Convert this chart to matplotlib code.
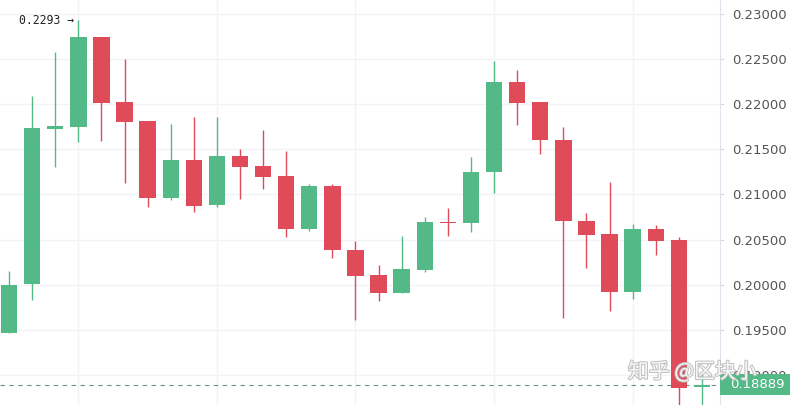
import matplotlib
matplotlib.use("Agg")
import matplotlib.pyplot as plt
import matplotlib.patheffects as pe
from matplotlib.patches import Rectangle
import numpy as np

# daily candles
opens = [0.19464, 0.20007, 0.21725, 0.21747, 0.22745, 0.22024, 0.21814, 0.20960,
         0.21378, 0.20879, 0.21426, 0.21318, 0.21204, 0.20613, 0.21093, 0.20384,
         0.20103, 0.19904, 0.20162, 0.20694, 0.20686, 0.21245, 0.22243, 0.22024,
         0.21603, 0.20705, 0.20561, 0.19918, 0.20613, 0.20495, 0.18866]
highs = [0.20151, 0.22091, 0.22579, 0.22930, 0.22745, 0.22505, 0.21814, 0.21781,
         0.21855, 0.21862, 0.21503, 0.21714, 0.21485, 0.21115, 0.21115, 0.20484,
         0.20214, 0.20539, 0.20753, 0.20846, 0.21418, 0.22479, 0.22379, 0.22024,
         0.21744, 0.20791, 0.21141, 0.20669, 0.20661, 0.20531, 0.19017]
lows = [0.19460, 0.19829, 0.21304, 0.21581, 0.21595, 0.21130, 0.20860, 0.20938,
        0.20805, 0.20860, 0.20949, 0.21060, 0.20524, 0.20598, 0.20292, 0.19608,
        0.19818, 0.19904, 0.20143, 0.20542, 0.20587, 0.21012, 0.21769, 0.21445,
        0.19627, 0.20181, 0.19708, 0.19844, 0.20328, 0.18600, 0.18600]
closes = [0.19996, 0.21736, 0.21758, 0.22745, 0.22017, 0.21806, 0.20960, 0.21378,
          0.20871, 0.21426, 0.21307, 0.21196, 0.20613, 0.21093, 0.20384, 0.20099,
          0.19904, 0.20170, 0.20694, 0.20680, 0.21252, 0.22243, 0.22017, 0.21600,
          0.20702, 0.20553, 0.19918, 0.20613, 0.20487, 0.18850, 0.18889]

price_ticks = [0.190, 0.195, 0.200, 0.205, 0.210, 0.215, 0.220, 0.225, 0.230]
last_price = 0.18889
high_label = "0.2293 →"
watermark = "知乎 @区块小"

up = "#53b987"
down = "#e04b5a"
grid = "#f2f3f7"

W, H = 794, 405
fig = plt.figure(figsize=(W / 100, H / 100), dpi=100)
ax = fig.add_axes([0, 0, 720 / W, 1])

x = np.arange(len(opens))
o = np.array(opens)
c = np.array(closes)
colors = [up if cc >= oo else down for oo, cc in zip(o, c)]

ax.vlines(x, lows, highs, colors=colors, lw=1, zorder=2)
bottoms = np.minimum(o, c)
heights = np.maximum(np.abs(c - o), 0.00018)
ax.bar(x, heights, bottom=bottoms, width=0.71, color=colors, zorder=3)

ax.set_xlim(-0.39, 30.78)
ax.set_ylim(0.186654, 0.231552)

# grid
for v in price_ticks:
    ax.axhline(v, color=grid, lw=1, zorder=0)
for i in range(3, len(opens), 6):
    ax.axvline(i, color=grid, lw=1, zorder=0)

ax.yaxis.tick_right()
ax.set_yticks(price_ticks)
ax.set_yticklabels([f"{v:.5f}" for v in price_ticks])
ax.tick_params(axis="y", length=3, color="#d6d9e0", labelcolor="#555555",
               labelsize=9.5, pad=6)
ax.set_xticks([])
for s in ["top", "left", "bottom"]:
    ax.spines[s].set_visible(False)
ax.spines["right"].set_color("#e0e3eb")

# last price line and tag
ax.axhline(last_price, color="#708f86", lw=0.8, ls=(0, (4, 4)), zorder=1)
yfrac = (last_price - 0.186654) / (0.231552 - 0.186654)
fig.patches.append(Rectangle((720 / W, yfrac - 10.5 / H), 70 / W, 21 / H,
                             transform=fig.transFigure, fc=up, ec="none", zorder=4))
fig.text(730 / W, yfrac, f"{last_price:.5f}", ha="left", va="center",
         color="white", fontsize=9.5, zorder=5)

ax.text(2.8, 0.2293, high_label, ha="right", va="center", fontsize=8.3,
        family="DejaVu Sans Mono", color="#222222")

fig.text(628 / W, 1 - 372 / H, watermark, ha="left", va="center",
         fontsize=15, color="white", alpha=0.9,
         family=["Noto Sans CJK SC", "DejaVu Sans"], zorder=10,
         path_effects=[pe.withStroke(linewidth=1.5, foreground="#bbbbbb")])

fig.savefig("out.png", dpi=100)
